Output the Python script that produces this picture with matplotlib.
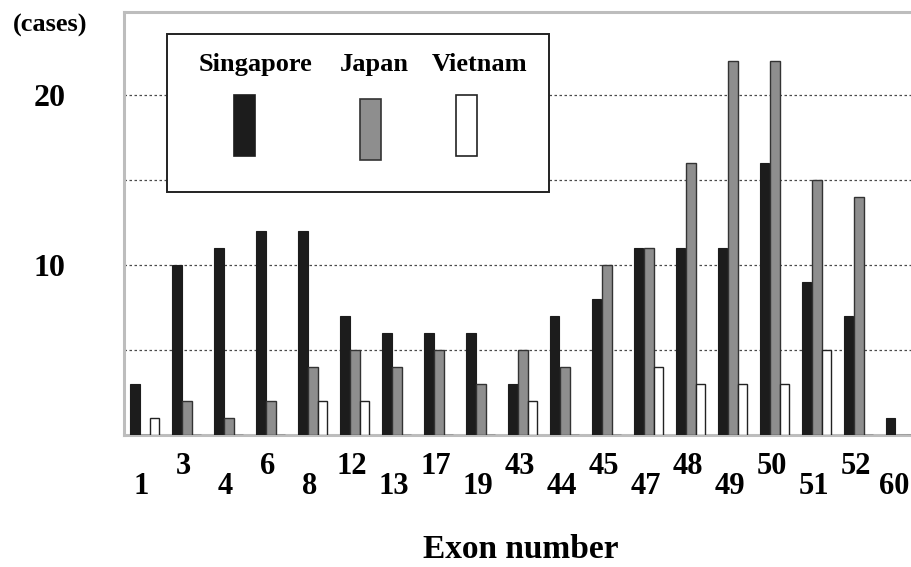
import numpy as np
import matplotlib.pyplot as plt
from matplotlib.patches import Rectangle
from matplotlib.transforms import blended_transform_factory

plt.rcParams['font.family'] = 'Liberation Serif'
plt.rcParams['font.weight'] = 'bold'

# Exon numbers and case counts per country
exons = ['1', '3', '4', '6', '8', '12', '13', '17', '19', '43',
         '44', '45', '47', '48', '49', '50', '51', '52', '60']
singapore = [3, 10, 11, 12, 12, 7, 6, 6, 6, 3, 7, 8, 11, 11, 11, 16, 9, 7, 1]
japan = [0, 2, 1, 2, 4, 5, 4, 5, 3, 5, 4, 10, 11, 16, 22, 22, 15, 14, 0]
vietnam = [1, 0, 0, 0, 2, 2, 0, 0, 0, 2, 0, 0, 4, 3, 3, 3, 5, 0, 0]

W, H = 911, 567
fig = plt.figure(figsize=(W / 100, H / 100), dpi=100)

def fx(px):
    return px / W

def fy(py):
    return 1 - py / H

# axes placed to match the reference frame
ax = fig.add_axes([fx(124), fy(435), fx(911) - fx(124), fy(12) - fy(435)])

x = np.arange(len(exons))
w = 0.22
ax.bar(x - 0.24, singapore, w, color='#1c1c1c', edgecolor='#1c1c1c', linewidth=0.8, zorder=3)
ax.bar(x, japan, w, color='#8e8e8e', edgecolor='#333333', linewidth=1.0, zorder=3)
ax.bar(x + 0.23, vietnam, w, color='white', edgecolor='#222222', linewidth=1.0, zorder=3)

ax.set_xlim(-0.5, 18.24)
ax.set_ylim(0, 24.9)

# grid lines at 5, 10, 15, 20 ; labels only on 10 and 20
ax.set_yticks([5, 10, 15, 20])
ax.set_yticklabels(['', '10', '', '20'], fontsize=23)
ax.tick_params(axis='y', length=0, pad=42)
ax.set_xticks([])
for yv in [5, 10, 15, 20]:
    ax.axhline(yv, color='#4a4a4a', linestyle=(0, (2, 2)), linewidth=0.9, zorder=1)

for s in ['left', 'top', 'bottom']:
    ax.spines[s].set_color('#bdbdbd')
    ax.spines[s].set_linewidth(2.2)
ax.spines['right'].set_visible(False)

# staggered exon labels
tr = blended_transform_factory(ax.transData, fig.transFigure)
for i, lab in enumerate(exons):
    ypx = 467 if i % 2 == 1 else 487
    xi = min(i - 0.08, 17.83)
    ax.text(xi, fy(ypx), lab, transform=tr, ha='center', va='center',
            fontsize=22, fontweight='bold')

fig.text(fx(50), fy(25), '(cases)', ha='center', va='center', fontsize=19, fontweight='bold')
fig.text(fx(521), fy(550), 'Exon number', ha='center', va='center', fontsize=24, fontweight='bold')

# hand drawn legend box
fig.patches.append(Rectangle((fx(167), fy(192)), fx(549) - fx(167), fy(34) - fy(192),
                             transform=fig.transFigure, facecolor='white',
                             edgecolor='#222222', linewidth=1.4, zorder=5))
leg = [('Singapore', 256, 234, 95, '#1c1c1c', '#1c1c1c'),
       ('Japan', 374, 360, 99, '#8e8e8e', '#333333'),
       ('Vietnam', 480, 456, 95, 'white', '#222222')]
for name, tx, rx, ry, fc, ec in leg:
    fig.text(fx(tx), fy(65), name, ha='center', va='center', fontsize=19,
             fontweight='bold', zorder=6)
    fig.patches.append(Rectangle((fx(rx), fy(ry + 61)), fx(21), 61 / H,
                                 transform=fig.transFigure, facecolor=fc,
                                 edgecolor=ec, linewidth=1.2, zorder=6))

plt.savefig('out.png', dpi=100)
